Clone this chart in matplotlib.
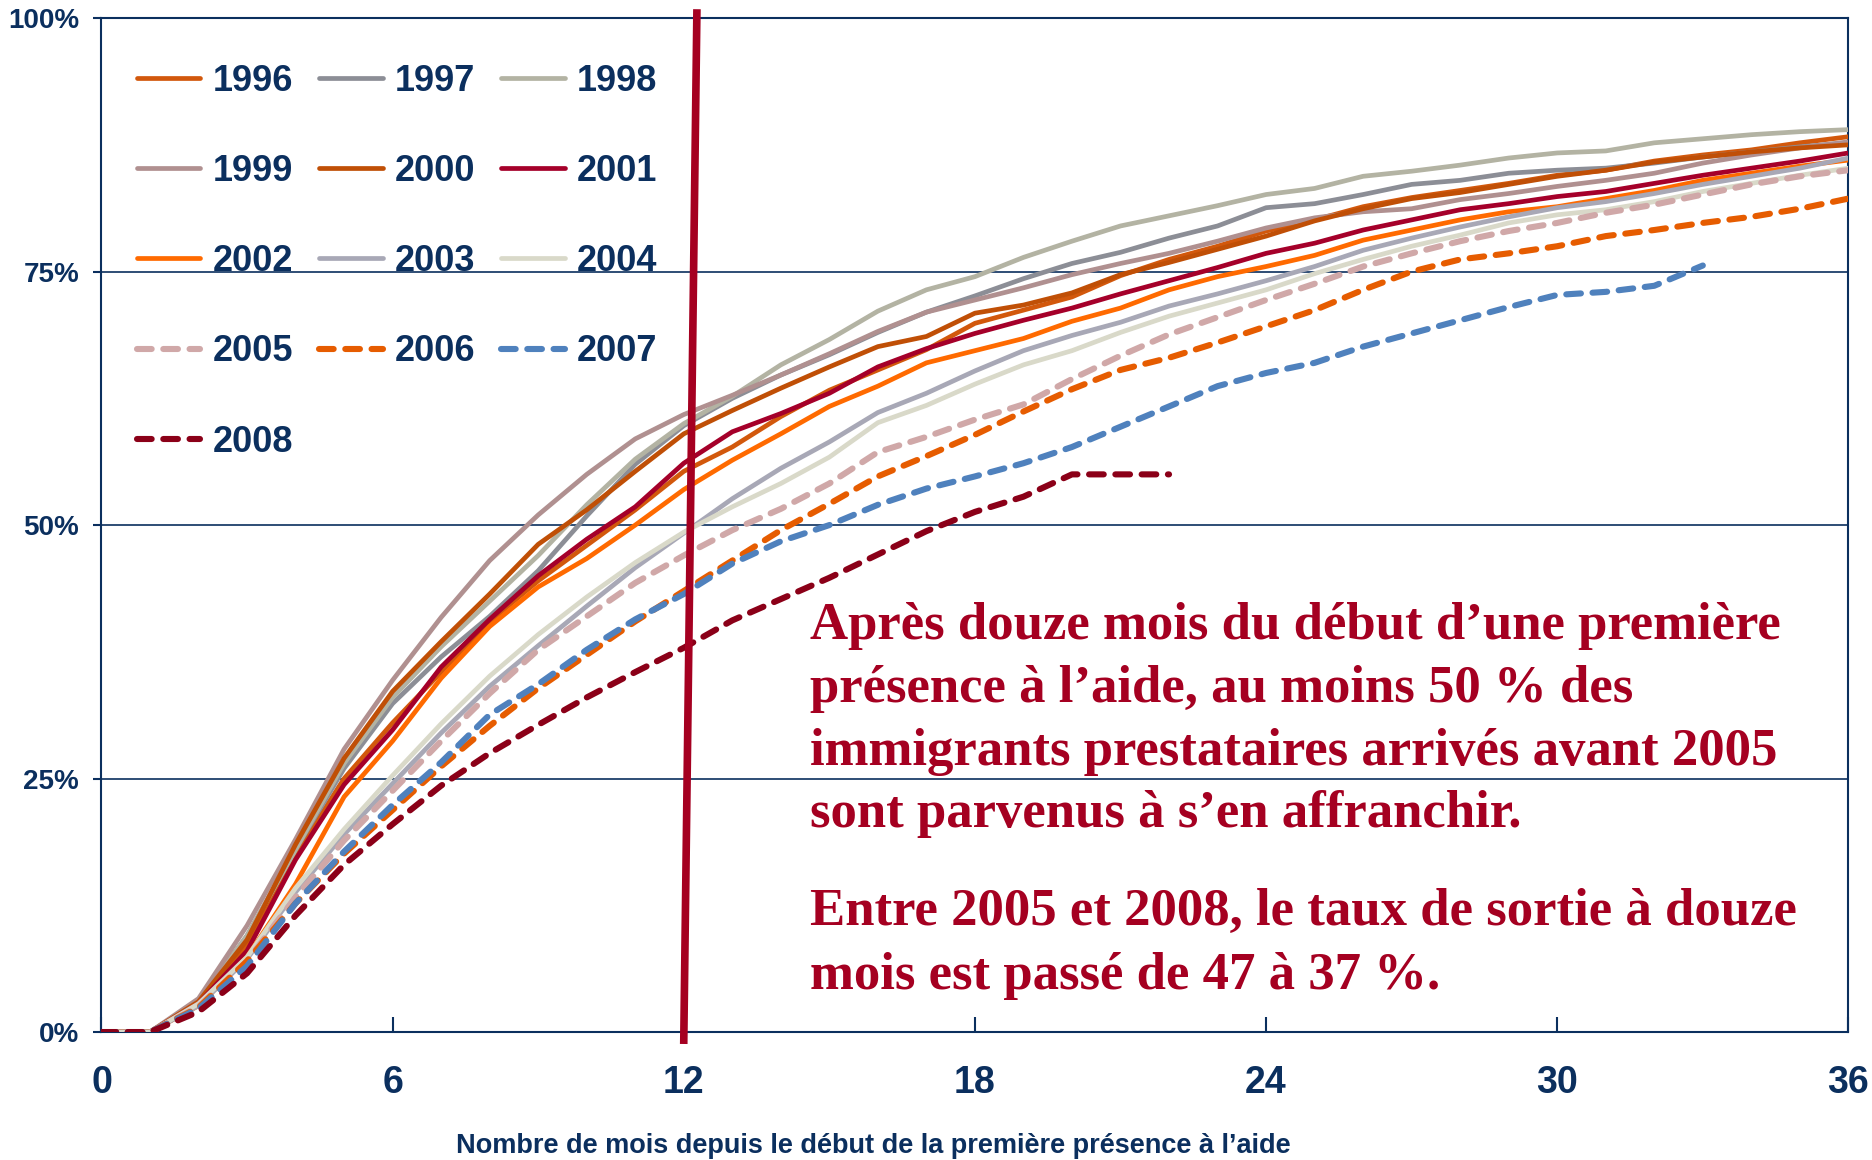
import numpy as np
import matplotlib
matplotlib.use("Agg")
import matplotlib.pyplot as plt
from matplotlib.ticker import FuncFormatter

NAVY = "#0B2F5E"
RED = "#A50021"
NARROW = ["Liberation Sans Narrow", "Liberation Sans", "DejaVu Sans"]
ARIAL = ["Liberation Sans", "DejaVu Sans"]
SERIF = ["Liberation Serif", "DejaVu Serif"]

months = list(range(0, 37))

y1996 = [0, 0, 2.8, 8.5, 17.5, 25, 30.5, 35.5, 40.5, 44.5, 48, 51.5, 55.3, 57.7, 60.7, 63.3, 65.3, 67.3, 69.9,
         71.2, 72.5, 74.6, 76.2, 77.5, 79, 80.1, 81.4, 82.3, 83, 83.7, 84.5, 85, 85.9, 86.5, 87, 87.7, 88.3]
y1997 = [0, 0, 3, 9.5, 18, 26, 32.4, 37, 41, 45.5, 50.9, 56, 59.8, 62.5, 64.8, 66.8, 69, 71, 72.6,
         74.3, 75.8, 76.9, 78.3, 79.5, 81.3, 81.7, 82.6, 83.6, 84, 84.7, 85, 85.2, 85.7, 86.3, 86.8, 87.3, 87.7]
y1998 = [0, 0, 3, 9.5, 18, 26.5, 33, 38, 42.5, 47, 52, 56.5, 60, 62.7, 65.8, 68.3, 71.1, 73.2, 74.5,
         76.4, 78, 79.5, 80.5, 81.5, 82.6, 83.2, 84.4, 84.9, 85.5, 86.2, 86.7, 86.9, 87.7, 88.1, 88.5, 88.8, 89]
y1999 = [0, 0, 3.3, 10.5, 19, 27.9, 34.7, 40.9, 46.5, 51, 55, 58.5, 60.9, 62.8, 64.8, 66.9, 69.1, 71, 72.2,
         73.4, 74.7, 75.8, 76.8, 78, 79.3, 80.3, 80.9, 81.2, 82.1, 82.7, 83.4, 84, 84.7, 85.7, 86.5, 87.2, 87.8]
y2000 = [0, 0, 3, 9.1, 18.5, 27, 33.6, 38.5, 43.2, 48.1, 51.5, 55.3, 59, 61.3, 63.5, 65.6, 67.6, 68.6, 70.9,
         71.7, 72.9, 74.7, 75.9, 77.2, 78.5, 80, 81.2, 82.2, 82.8, 83.6, 84.4, 85, 85.8, 86.3, 86.8, 87.2, 87.5]
y2001 = [0, 0, 2.8, 8, 17, 24.4, 29.8, 36, 40.7, 45, 48.6, 51.8, 56.1, 59.2, 61, 63, 65.6, 67.4, 68.9,
         70.2, 71.4, 72.8, 74.1, 75.4, 76.8, 77.8, 79.1, 80.1, 81.1, 81.7, 82.4, 82.9, 83.7, 84.5, 85.2, 85.9, 86.7]
y2002 = [0, 0, 2.6, 7.4, 14.6, 23.2, 28.7, 34.9, 40, 43.9, 46.7, 50, 53.5, 56.4, 59, 61.7, 63.7, 66, 67.2,
         68.4, 70.1, 71.4, 73.2, 74.5, 75.5, 76.6, 78.1, 79.1, 80.1, 80.9, 81.4, 82.2, 83, 84, 84.7, 85.4, 86]
y2003 = [0, 0, 2.6, 7.2, 13.8, 19.5, 24.5, 29.5, 34.1, 38.1, 42, 45.8, 49.2, 52.6, 55.6, 58.2, 61.1, 63, 65.2,
         67.2, 68.7, 70, 71.6, 72.8, 74.1, 75.5, 77.1, 78.3, 79.4, 80.4, 81.3, 81.9, 82.7, 83.6, 84.4, 85.2, 86.2]
y2004 = [0, 0, 2.8, 7.4, 14.2, 20, 25.3, 30.4, 35.1, 39.2, 42.9, 46.3, 49.3, 51.8, 54.1, 56.7, 60.1, 61.8, 63.9,
         65.8, 67.2, 69, 70.6, 71.9, 73.2, 74.8, 76.2, 77.5, 78.6, 79.8, 80.6, 81.1, 81.9, 82.9, 83.7, 84.5, 85.2]
y2005 = [0, 0, 2.5, 7, 13.3, 18.9, 23.8, 28.7, 33.4, 37.7, 41, 44.3, 47, 49.5, 51.6, 54.1, 57.2, 58.7, 60.4,
         61.9, 64.4, 66.7, 68.8, 70.5, 72.2, 73.8, 75.5, 76.8, 78, 79, 79.8, 80.8, 81.6, 82.6, 83.6, 84.4, 85]
y2006 = [0, 0, 2.4, 7, 12.7, 17.6, 21.9, 26.2, 30.2, 33.9, 37.2, 40.5, 43.5, 46.5, 49.5, 52.1, 54.8, 56.8, 58.9,
         61.2, 63.4, 65.3, 66.5, 68, 69.6, 71.2, 73.2, 75, 76.2, 76.8, 77.5, 78.5, 79.1, 79.8, 80.4, 81.2, 82.2]
y2007 = [0, 0, 2.3, 6.5, 12.7, 17.8, 22.4, 26.6, 31.3, 34.3, 37.7, 40.7, 43.2, 46.2, 48.4, 50, 52, 53.6, 54.8,
         56.1, 57.7, 59.7, 61.7, 63.7, 65, 66, 67.6, 68.9, 70.2, 71.5, 72.7, 73, 73.6, 75.6]
y2008 = [0, 0, 2.0, 5.8, 11.5, 16.5, 20.5, 24.3, 27.5, 30.3, 33, 35.5, 37.9, 40.6, 42.7, 44.8, 47.1, 49.4, 51.3,
         52.8, 55, 55, 55]

years = ["1996", "1997", "1998", "1999", "2000", "2001", "2002", "2003", "2004", "2005", "2006", "2007", "2008"]
values = [y1996, y1997, y1998, y1999, y2000, y2001, y2002, y2003, y2004, y2005, y2006, y2007, y2008]
colors = ["#D2580C", "#8C8E96", "#B3B3A3", "#B09090", "#C04F06", "#A5002A", "#FF6A00",
          "#A8A8B6", "#D9D9C9", "#D0A8A8", "#E65C00", "#4F81BD", "#8B0018"]
dashed = [False] * 9 + [True] * 4

xticks = [0, 6, 12, 18, 24, 30, 36]
yticks = [0, 25, 50, 75, 100]
xlabel = "Nombre de mois depuis le début de la première présence à l’aide"
para1 = ["Après douze mois du début d’une première",
         "présence à l’aide, au moins 50 % des",
         "immigrants prestataires arrivés avant 2005",
         "sont parvenus à s’en affranchir."]
para2 = ["Entre 2005 et 2008, le taux de sortie à douze",
         "mois est passé de 47 à 37 %."]

# 12-month marker line (slightly slanted as in original)
marker_x = [12.0, 12.27]
marker_y = [-0.8, 100.5]

fig = plt.figure(figsize=(18.72, 11.60), dpi=100)
ax = fig.add_axes([0.0542, 0.1103, 0.9332, 0.8741])

ax.set_xlim(0, 36)
ax.set_ylim(0, 100)
for v in [25, 50, 75]:
    ax.axhline(v, color=NAVY, lw=1.2, zorder=1)

handles = {}
for yr, vals, c, d in zip(years, values, colors, dashed):
    m = months[:len(vals)]
    if d:
        ln, = ax.plot(m, vals, color=c, lw=4.4, linestyle=(0, (2.4, 1.9)),
                      dash_capstyle="round", solid_capstyle="round", zorder=3, label=yr)
    else:
        ln, = ax.plot(m, vals, color=c, lw=3.4, solid_capstyle="round", zorder=3, label=yr)
    handles[yr] = ln

ax.plot(marker_x, marker_y, color=RED, lw=5.5, clip_on=False, zorder=5)

for s in ax.spines.values():
    s.set_color(NAVY)
    s.set_linewidth(1.5)

ax.set_xticks(xticks)
ax.set_yticks(yticks)
ax.yaxis.set_major_formatter(FuncFormatter(lambda v, p: f"{int(v)}%"))
ax.tick_params(axis="x", direction="in", length=11, width=1.5, color=NAVY, pad=24,
               labelsize=27, labelcolor=NAVY)
ax.tick_params(axis="y", direction="out", length=6, width=1.5, color=NAVY, pad=10,
               labelsize=20, labelcolor=NAVY)
for t in ax.get_xticklabels():
    t.set_fontfamily(ARIAL)
    t.set_fontweight("bold")
for t in ax.get_yticklabels():
    t.set_fontfamily(NARROW)
    t.set_fontweight("bold")

fig.text(873 / 1872, 1 - 1146 / 1160, xlabel, ha="center", va="center",
         color=NAVY, fontsize=19.5, fontweight="bold", family=NARROW)

order = ["1996", "1999", "2002", "2005", "2008", "1997", "2000", "2003", "2006",
         "1998", "2001", "2004", "2007"]
leg = ax.legend([handles[k] for k in order], order, ncol=3, frameon=False,
                loc="upper left", bbox_to_anchor=(0.0118, 0.9694),
                prop={"family": NARROW, "weight": "bold", "size": 26},
                labelcolor=NAVY, handlelength=1.77, handletextpad=0.33,
                columnspacing=0.72, labelspacing=1.53, borderaxespad=0.0)

baselines1 = [639, 702, 765, 827]
baselines2 = [925, 989]
for txt, b in zip(para1 + para2, baselines1 + baselines2):
    fig.text(810 / 1872, 1 - b / 1160, txt, ha="left", va="baseline", color=RED,
             fontsize=38, fontweight="bold", family=SERIF)

fig.savefig("out.png", dpi=100)
